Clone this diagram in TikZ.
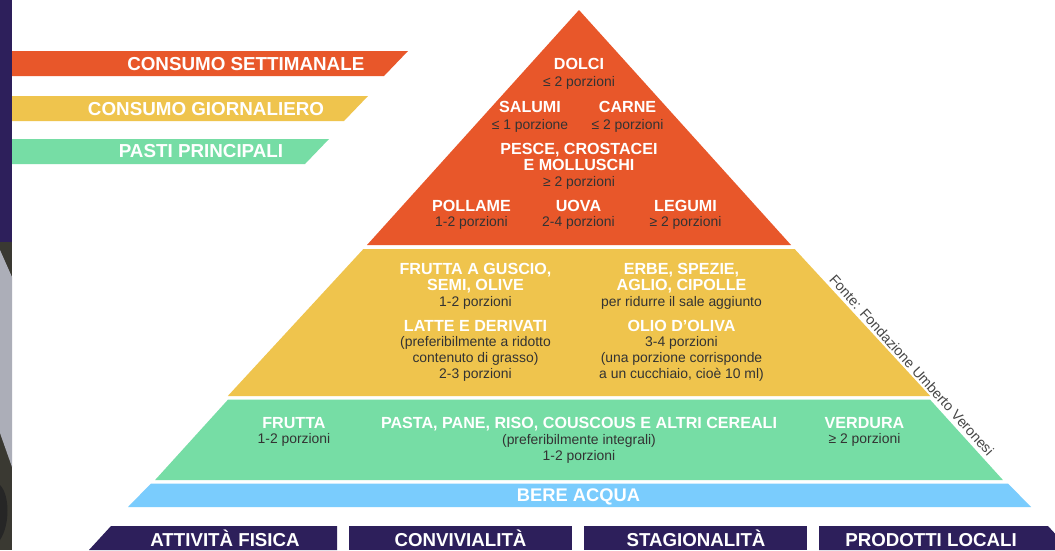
\documentclass[tikz,border=0pt]{standalone}
\usepackage{fontspec}
\setmainfont{Liberation Sans}
\definecolor{pred}{RGB}{232,87,42}
\definecolor{pyel}{RGB}{239,196,77}
\definecolor{pgreen}{RGB}{118,221,165}
\definecolor{pblue}{RGB}{122,204,253}
\definecolor{ppurple}{RGB}{45,31,91}
\definecolor{txtgray}{RGB}{51,51,51}
\definecolor{photodark}{RGB}{58,57,50}
\definecolor{photolight}{RGB}{172,174,184}
\tikzset{
  hd/.style={font=\fontsize{16.1}{16}\selectfont\bfseries, text=white, anchor=base, inner sep=0pt},
  pz/.style={font=\fontsize{13.9}{16}\selectfont, text=txtgray, anchor=base, inner sep=0pt},
  legtxt/.style={font=\fontsize{18.8}{19}\selectfont\bfseries, text=white, anchor=base, inner sep=0pt},
  bartxt/.style={font=\fontsize{18.7}{19}\selectfont\bfseries, text=white, anchor=base, inner sep=0pt},
  srctxt/.style={font=\fontsize{14.2}{15}\selectfont, text=txtgray!90!white, anchor=base, inner sep=0pt, rotate=-47.94}
}
\begin{document}
\begin{tikzpicture}[x=1pt,y=-1pt]
\useasboundingbox (0,0) rectangle (1055,550);
\fill[white] (0,0) rectangle (1055,550);
% left strip
\fill[ppurple] (0,0) rectangle (12,242);
\fill[photodark] (0,242) rectangle (12,550);
\fill[photolight] (0,250) -- (12,277) -- (12,467) -- (0,433) -- cycle;
\fill[black!85] (0,485) .. controls (10,495) and (10,525) .. (0,540) -- cycle;
% legend ribbons
\fill[pred] (12,51) -- (408,51) -- (384,76) -- (12,76) -- cycle;
\fill[pyel] (12,96) -- (368,96) -- (344,121) -- (12,121) -- cycle;
\fill[pgreen] (12,139) -- (329,139) -- (305,164) -- (12,164) -- cycle;
\node[legtxt] (lsett) at (245.8,70) {CONSUMO SETTIMANALE};
\node[legtxt] (lgior) at (206,115) {CONSUMO GIORNALIERO};
\node[legtxt] (lpasti) at (201,157.7) {PASTI PRINCIPALI};
% pyramid tiers
\fill[pred] (579,10) -- (791,245) -- (367,245) -- cycle;
\fill[pyel] (363.4,249) -- (794.6,249) -- (930.2,396) -- (227.8,396) -- cycle;
\fill[pgreen] (228.1,399.5) -- (929.9,399.5) -- (1002.9,480) -- (155.1,480) -- cycle;
\fill[pblue] (151,483.5) -- (1008,483.5) -- (1031,507) -- (128,507) -- cycle;
% red tier text
\node[hd] (dolci) at (579,69) {DOLCI};
\node[pz] (dolcip) at (579,86.7) {≤ 2 porzioni};
\node[hd] (salumi) at (530,112.5) {SALUMI};
\node[pz] (salumip) at (530,129) {≤ 1 porzione};
\node[hd] (carne) at (627.5,112.5) {CARNE};
\node[pz] (carnep) at (627.5,129) {≤ 2 porzioni};
\node[hd] (pesce1) at (579,154.3) {PESCE, CROSTACEI};
\node[hd] (pesce2) at (579,170) {E MOLLUSCHI};
\node[pz] (pescep) at (579,186) {≥ 2 porzioni};
\node[hd] (pollame) at (471.5,211) {POLLAME};
\node[pz] (pollamep) at (471.5,226.7) {1-2 porzioni};
\node[hd] (uova) at (578.5,211) {UOVA};
\node[pz] (uovap) at (578.5,226.7) {2-4 porzioni};
\node[hd] (legumi) at (685.5,211) {LEGUMI};
\node[pz] (legumip) at (685.5,226.7) {≥ 2 porzioni};
% yellow tier text
\node[hd] (fg1) at (475.5,274.3) {FRUTTA A GUSCIO,};
\node[hd] (fg2) at (475.5,290) {SEMI, OLIVE};
\node[pz] (fgp) at (475.5,306) {1-2 porzioni};
\node[hd] (er1) at (681.5,274.3) {ERBE, SPEZIE,};
\node[hd] (er2) at (681.5,290) {AGLIO, CIPOLLE};
\node[pz] (erp) at (681.5,306) {per ridurre il sale aggiunto};
\node[hd] (latte) at (475.5,331) {LATTE E DERIVATI};
\node[pz] (latte1) at (475.5,346.7) {(preferibilmente a ridotto};
\node[pz] (latte2) at (475.5,362.3) {contenuto di grasso)};
\node[pz] (latte3) at (475.5,378.3) {2-3 porzioni};
\node[hd] (olio) at (681.5,331) {OLIO D’OLIVA};
\node[pz] (olio1) at (681.5,346.7) {3-4 porzioni};
\node[pz] (olio2) at (681.5,362.3) {(una porzione corrisponde};
\node[pz] (olio3) at (681.5,378.3) {a un cucchiaio, cioè 10 ml)};
% green tier text
\node[hd] (frutta) at (294,428.3) {FRUTTA};
\node[pz] (fruttap) at (294,443.3) {1-2 porzioni};
\node[hd] (pasta) at (579,428.3) {PASTA, PANE, RISO, COUSCOUS E ALTRI CEREALI};
\node[pz] (pasta1) at (579,444.5) {(preferibilmente integrali)};
\node[pz] (pasta2) at (579,460) {1-2 porzioni};
\node[hd] (verdura) at (864.5,428.3) {VERDURA};
\node[pz] (verdurap) at (864.5,443.3) {≥ 2 porzioni};
% water
\node[bartxt, font=\fontsize{18.3}{19}\selectfont\bfseries] (acqua) at (578.5,501.5) {BERE ACQUA};
% source
\node[srctxt] (fonte) at (908,368.5) {Fonte: Fondazione Umberto Veronesi};
% bottom bars
\fill[ppurple] (111,526) -- (337,526) -- (337,550) -- (89,550) -- cycle;
\fill[ppurple] (349,526) -- (572,526) -- (572,550) -- (349,550) -- cycle;
\fill[ppurple] (584,526) -- (807,526) -- (807,550) -- (584,550) -- cycle;
\fill[ppurple] (819,526) -- (1048,526) -- (1055,533.6) -- (1055,550) -- (819,550) -- cycle;
\node[bartxt] (attiv) at (225,546) {ATTIVITÀ FISICA};
\node[bartxt] (convi) at (460.5,546) {CONVIVIALITÀ};
\node[bartxt] (stag) at (696,546) {STAGIONALITÀ};
\node[bartxt] (prod) at (931,546) {PRODOTTI LOCALI};
\end{tikzpicture}
\end{document}
